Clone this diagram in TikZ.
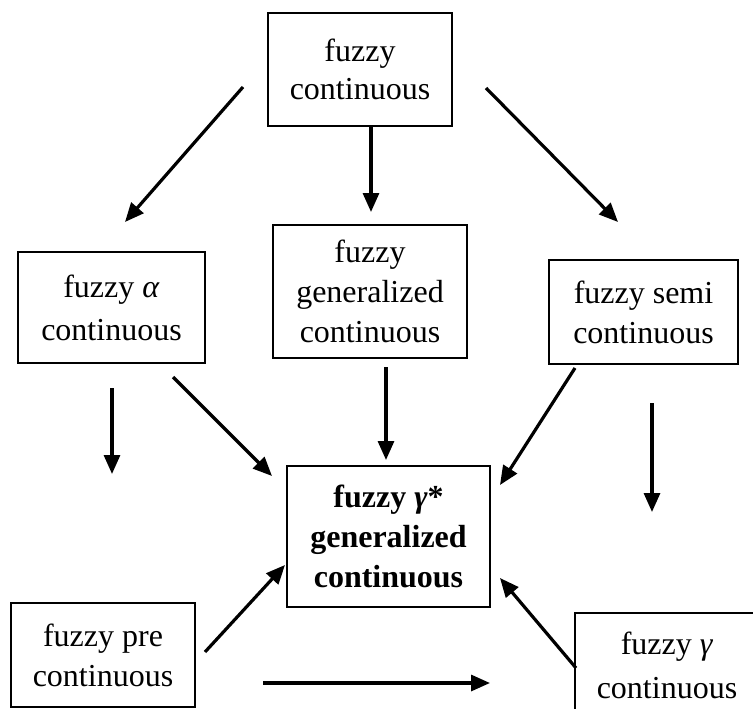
\documentclass[tikz,border=0pt]{standalone}
\usepackage{fontspec}
\setmainfont{Liberation Serif}
\usetikzlibrary{arrows.meta}
\newcommand{\bigtxt}{\fontsize{32}{40}\selectfont}
\begin{document}
\begin{tikzpicture}[x=1pt,y=-1pt,
  box/.style={draw,line width=2pt,align=center,inner sep=0pt,font=\bigtxt},
  boldbox/.style={box,font=\bigtxt\bfseries},
  arr/.style={line width=3.2pt,-{Triangle[length=19pt,width=16pt]}}]
\clip (0,0) rectangle (753,709);
\fill[white] (0,0) rectangle (753,709);
\node[box,minimum width=184pt,minimum height=113pt,font=\fontsize{32}{38}\selectfont] (top) at (360,69.5) {fuzzy\\continuous};
\node[box,minimum width=187pt,minimum height=111pt,font=\fontsize{32}{43}\selectfont] (alpha) at (111.5,307.5) {fuzzy \textit{α}\\continuous};
\node[box,minimum width=194pt,minimum height=133pt] (gen) at (370,291.5) {fuzzy\\generalized\\continuous};
\node[box,minimum width=189pt,minimum height=104pt] (semi) at (643.5,312) {fuzzy semi\\continuous};
\node[boldbox,minimum width=203pt,minimum height=141pt] (ctr) at (388.5,536.5) {fuzzy \textit{γ}*\\generalized\\continuous};
\node[box,minimum width=184pt,minimum height=104pt] (pre) at (103,655) {fuzzy pre\\continuous};
\node[box,minimum width=184pt,minimum height=104pt,font=\fontsize{32}{44}\selectfont] (gam) at (667,665) {fuzzy \textit{γ}\\continuous};
% connector end points
\coordinate (a1s) at (243,87);  \coordinate (a1e) at (125,222);
\coordinate (a2s) at (371,127); \coordinate (a2e) at (371,212);
\coordinate (a3s) at (486,88);  \coordinate (a3e) at (618,222);
\coordinate (a4s) at (112,388); \coordinate (a4e) at (112,474);
\coordinate (a5s) at (173,377); \coordinate (a5e) at (272,476);
\coordinate (a6s) at (386,367); \coordinate (a6e) at (386,460);
\coordinate (a7s) at (575,368); \coordinate (a7e) at (500,485);
\coordinate (a8s) at (652,403); \coordinate (a8e) at (652,512);
\coordinate (a9s) at (205,652); \coordinate (a9e) at (285,565);
\coordinate (a10s) at (263,683); \coordinate (a10e) at (490,683);
\coordinate (a11s) at (576,668); \coordinate (a11e) at (500,578);
\draw[arr] (a1s) -- (a1e);
\draw[arr] (a2s) -- (a2e);
\draw[arr] (a3s) -- (a3e);
\draw[arr] (a4s) -- (a4e);
\draw[arr] (a5s) -- (a5e);
\draw[arr] (a6s) -- (a6e);
\draw[arr] (a7s) -- (a7e);
\draw[arr] (a8s) -- (a8e);
\draw[arr] (a9s) -- (a9e);
\draw[arr] (a10s) -- (a10e);
\draw[arr] (a11s) -- (a11e);
\end{tikzpicture}
\end{document}
